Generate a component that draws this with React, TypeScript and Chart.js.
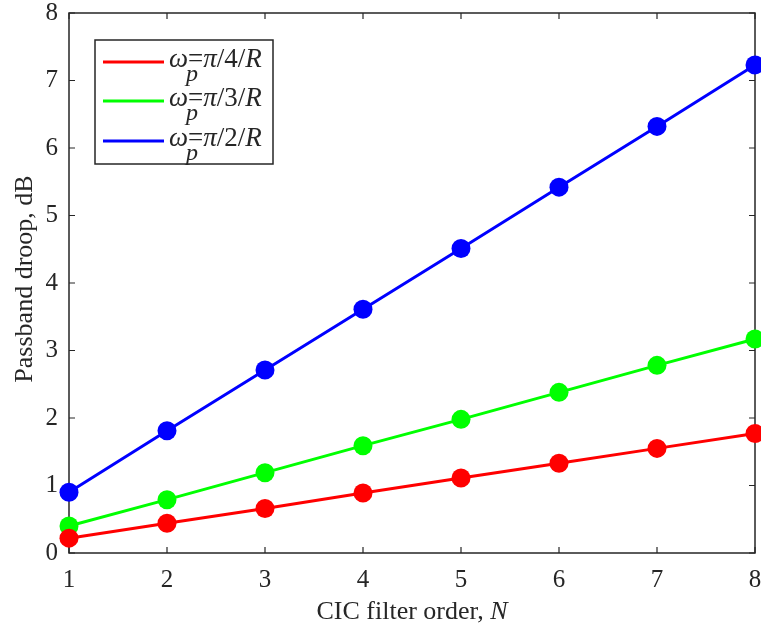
import React, { useEffect, useRef } from "react";
import { Chart, registerables } from "chart.js";

Chart.register(...registerables);

const orders = [1, 2, 3, 4, 5, 6, 7, 8];
const droopQuarter = [0.22, 0.44, 0.66, 0.89, 1.11, 1.33, 1.55, 1.77];
const droopThird = [0.4, 0.79, 1.19, 1.59, 1.98, 2.38, 2.78, 3.17];
const droopHalf = [0.9, 1.81, 2.71, 3.61, 4.51, 5.42, 6.32, 7.23];
const legendDenoms = ["4", "3", "2"];
const seriesColors = ["#ff0000", "#00ff00", "#0000ff"];
const yTicks = [0, 1, 2, 3, 4, 5, 6, 7, 8];

const AXIS_COLOR = "#262626";
const SERIF = "'Liberation Serif', 'Times New Roman', serif";

const boxPlugin = {
  id: "matlabBox",
  beforeDatasetsDraw(chart: any) {
    const { ctx, chartArea } = chart;
    const { left, right, top, bottom } = chartArea;
    const xs = chart.scales.x;
    const ys = chart.scales.y;
    ctx.save();
    ctx.strokeStyle = AXIS_COLOR;
    ctx.lineWidth = 1.5;
    ctx.strokeRect(left, top, right - left, bottom - top);
    ctx.lineWidth = 1.2;
    const tl = 6;
    ctx.beginPath();
    orders.forEach((v) => {
      const px = xs.getPixelForValue(v);
      ctx.moveTo(px, bottom);
      ctx.lineTo(px, bottom - tl);
      ctx.moveTo(px, top);
      ctx.lineTo(px, top + tl);
    });
    yTicks.forEach((v) => {
      const py = ys.getPixelForValue(v);
      ctx.moveTo(left, py);
      ctx.lineTo(left + tl, py);
      ctx.moveTo(right, py);
      ctx.lineTo(right - tl, py);
    });
    ctx.stroke();
    ctx.restore();
  },
  afterDraw(chart: any) {
    const { ctx, chartArea } = chart;
    ctx.save();
    // Legend box
    const bx = 95, by = 40, bw = 178, bh = 124;
    ctx.fillStyle = "#ffffff";
    ctx.fillRect(bx, by, bw, bh);
    ctx.strokeStyle = AXIS_COLOR;
    ctx.lineWidth = 1.5;
    ctx.strokeRect(bx, by, bw, bh);
    const rows = [62, 101, 141];
    rows.forEach((ry, i) => {
      ctx.strokeStyle = seriesColors[i];
      ctx.lineWidth = 3;
      ctx.beginPath();
      ctx.moveTo(103, ry);
      ctx.lineTo(164, ry);
      ctx.stroke();
      ctx.fillStyle = AXIS_COLOR;
      ctx.textBaseline = "alphabetic";
      ctx.textAlign = "left";
      const base = ry + 5;
      let x = 169;
      const it = `italic 27px ${SERIF}`;
      const rg = `27px ${SERIF}`;
      ctx.font = it;
      ctx.fillText("ω", x, base);
      const wOm = ctx.measureText("ω").width;
      ctx.font = `italic 24px ${SERIF}`;
      ctx.fillText("p", x + wOm - 2, base + 14);
      x += wOm;
      ctx.font = rg;
      ctx.fillText("=", x, base);
      x += ctx.measureText("=").width;
      ctx.font = it;
      ctx.fillText("π", x, base);
      x += ctx.measureText("π").width;
      ctx.font = rg;
      const mid = "/" + legendDenoms[i] + "/";
      ctx.fillText(mid, x, base);
      x += ctx.measureText(mid).width;
      ctx.font = it;
      ctx.fillText("R", x, base);
    });
    // X axis title with italic N
    ctx.fillStyle = AXIS_COLOR;
    ctx.font = `26px ${SERIF}`;
    const t1 = "CIC filter order, ";
    const w1 = ctx.measureText(t1).width;
    ctx.font = `italic 26px ${SERIF}`;
    const w2 = ctx.measureText("N").width;
    const cx = (chartArea.left + chartArea.right) / 2;
    const sx = cx - (w1 + w2) / 2;
    ctx.textAlign = "left";
    ctx.textBaseline = "alphabetic";
    ctx.font = `26px ${SERIF}`;
    ctx.fillText(t1, sx, 619);
    ctx.font = `italic 26px ${SERIF}`;
    ctx.fillText("N", sx + w1, 619);
    // Y axis title
    ctx.translate(32, (chartArea.top + chartArea.bottom) / 2 - 4);
    ctx.rotate(-Math.PI / 2);
    ctx.textAlign = "center";
    ctx.font = `26px ${SERIF}`;
    ctx.fillText("Passband droop, dB", 0, 0);
    ctx.restore();
  },
};

const zeroPad = (s: any) => {
  s.paddingLeft = 0;
  s.paddingRight = 0;
  s.paddingTop = 0;
  s.paddingBottom = 0;
};

export default function App() {
  const ref = useRef<HTMLCanvasElement | null>(null);
  useEffect(() => {
    if (!ref.current) return;
    const mk = (data: number[], color: string) => ({
      data: orders.map((o, i) => ({ x: o, y: data[i] })),
      borderColor: color,
      backgroundColor: color,
      pointBackgroundColor: color,
      pointBorderColor: color,
      borderWidth: 3,
      pointRadius: 9.5,
      pointBorderWidth: 0,
      clip: false as any,
    });
    const chart = new Chart(ref.current, {
      type: "line",
      data: {
        datasets: [
          mk(droopQuarter, seriesColors[0]),
          mk(droopThird, seriesColors[1]),
          mk(droopHalf, seriesColors[2]),
        ],
      },
      options: {
        animation: false,
        responsive: false,
        devicePixelRatio: 1,
        layout: { autoPadding: false, padding: { top: 13, right: 6, left: 0, bottom: 0 } },
        plugins: { legend: { display: false }, tooltip: { enabled: false } },
        scales: {
          x: {
            type: "linear",
            min: 1,
            max: 8,
            afterFit: (s: any) => { s.height = 79; zeroPad(s); },
            afterBuildTicks: (s: any) => { s.ticks = orders.map((v) => ({ value: v })); },
            grid: { display: false, drawTicks: false },
            border: { display: false },
            ticks: {
              color: AXIS_COLOR,
              font: { family: SERIF, size: 25 },
              padding: 12,
              maxRotation: 0,
            },
          },
          y: {
            type: "linear",
            min: 0,
            max: 8,
            afterFit: (s: any) => { s.width = 69; zeroPad(s); },
            afterBuildTicks: (s: any) => { s.ticks = yTicks.map((v) => ({ value: v })); },
            grid: { display: false, drawTicks: false },
            border: { display: false },
            ticks: {
              color: AXIS_COLOR,
              font: { family: SERIF, size: 25 },
              padding: 11,
            },
          },
        },
      },
      plugins: [boxPlugin],
    });
    return () => chart.destroy();
  }, []);
  return (
    <div style={{ position: "fixed", left: 0, top: 0, width: 761, height: 632, background: "#fff" }}>
      <canvas ref={ref} width={761} height={632} style={{ width: 761, height: 632 }} />
    </div>
  );
}
